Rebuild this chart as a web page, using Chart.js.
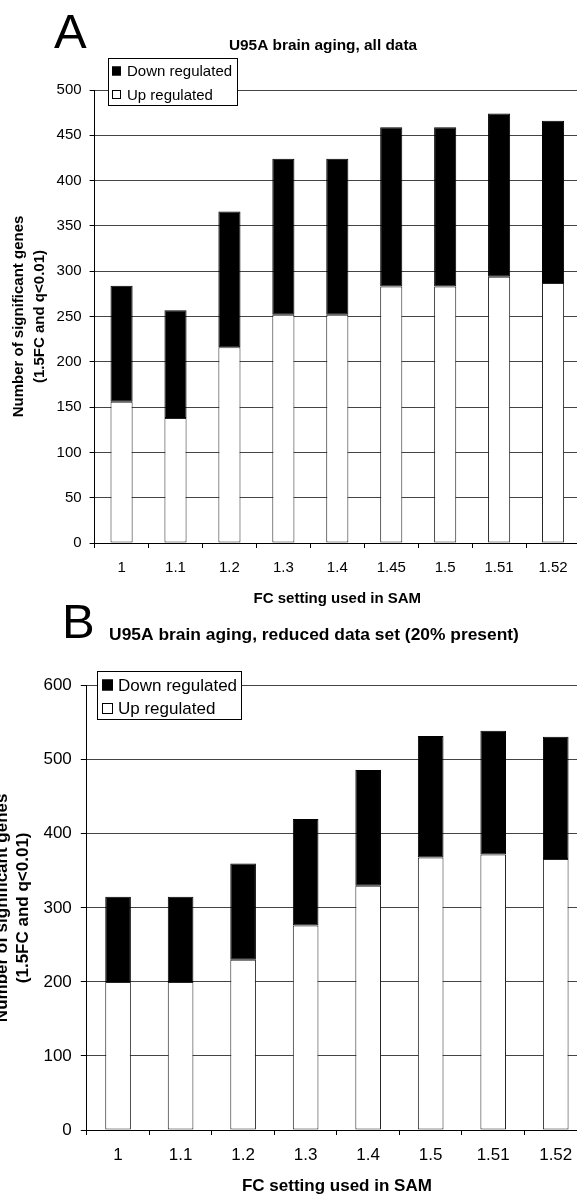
<!DOCTYPE html>
<html>
<head>
<meta charset="utf-8">
<script src="https://cdn.jsdelivr.net/npm/chart.js@4.4.1/dist/chart.umd.min.js"></script>
<style>
  html, body { margin: 0; padding: 0; background: #fff; overflow: hidden; width: 577px; height: 1194px; }
  canvas { position: absolute; }
  #chartA { left: 0px; top: 0px; }
  #chartB { left: -12px; top: 590px; }
</style>
</head>
<body>
<canvas id="chartA" width="600" height="620"></canvas>
<canvas id="chartB" width="620" height="620"></canvas>
<script>
// panel A: all data
const fcLabelsA = ['1', '1.1', '1.2', '1.3', '1.4', '1.45', '1.5', '1.51', '1.52'];
const upA = [156, 138, 216, 252, 252, 283, 283, 294, 287];
const downA = [128, 119, 150, 172, 172, 176, 176, 180, 179];

// panel B: reduced data set (20% present)
const fcLabelsB = ['1', '1.1', '1.2', '1.3', '1.4', '1.5', '1.51', '1.52'];
const upB = [200, 200, 230, 276, 330, 368, 372, 366];
const downB = [115, 115, 130, 144, 156, 164, 167, 165];

const FONT = "'Liberation Sans', Arial, sans-serif";

// draws panel letter, title and the boxed legend (legend overlaps the plot top)
const panelDecor = {
  id: 'panelDecor',
  afterDraw(chart, args, opts) {
    const ctx = chart.ctx;
    ctx.save();
    ctx.fillStyle = '#000';
    ctx.textBaseline = 'alphabetic';
    ctx.textAlign = 'left';
    ctx.font = '49px ' + FONT;
    ctx.fillText(opts.letter, opts.letterX, opts.letterY);

    ctx.textAlign = 'center';
    ctx.font = 'bold ' + opts.titleSize + 'px ' + FONT;
    ctx.fillText(opts.title, opts.titleX, opts.titleY);

    const lg = opts.legend;
    ctx.fillStyle = '#fff';
    ctx.fillRect(lg.x, lg.y, lg.w, lg.h);
    ctx.strokeStyle = '#000';
    ctx.lineWidth = 1;
    ctx.strokeRect(lg.x + 0.5, lg.y + 0.5, lg.w, lg.h);

    ctx.font = lg.size + 'px ' + FONT;
    ctx.textAlign = 'left';
    ctx.textBaseline = 'middle';
    const ds = chart.data.datasets.slice().reverse();
    ds.forEach((d, i) => {
      const cy = lg.rows[i];
      ctx.fillStyle = d.backgroundColor;
      ctx.fillRect(lg.swX, cy - lg.sw / 2, lg.sw, lg.sw);
      ctx.strokeStyle = '#000';
      ctx.strokeRect(lg.swX + 0.5, cy - lg.sw / 2 + 0.5, lg.sw - 1, lg.sw - 1);
      ctx.fillStyle = '#000';
      ctx.fillText(d.label, lg.textX, cy + 1);
    });
    ctx.restore();
  }
};

function makeChart(id, labels, up, down, cfg) {
  const ctx = document.getElementById(id).getContext('2d');
  return new Chart(ctx, {
    type: 'bar',
    data: {
      labels: labels,
      datasets: [
        {
          label: 'Up regulated',
          data: up,
          backgroundColor: '#ffffff',
          borderColor: '#222222',
          borderWidth: 1,
          borderSkipped: false
        },
        {
          label: 'Down regulated',
          data: down,
          backgroundColor: '#000000',
          borderColor: '#000000',
          borderWidth: 1,
          borderSkipped: false
        }
      ]
    },
    options: {
      responsive: false,
      animation: false,
      devicePixelRatio: 1,
      layout: { padding: cfg.padding },
      datasets: { bar: { categoryPercentage: 1, barPercentage: 0.41 } },
      plugins: {
        legend: { display: false },
        title: { display: false },
        tooltip: { enabled: false },
        panelDecor: cfg.decor
      },
      scales: {
        x: {
          stacked: true,
          afterFit: (s) => { s.height = cfg.xHeight; },
          grid: { offset: true, drawOnChartArea: false, tickLength: 5, color: '#000' },
          border: { color: '#000', width: 1 },
          ticks: { color: '#000', font: { family: FONT, size: cfg.size }, padding: cfg.xTickPad },
          title: {
            display: true,
            text: 'FC setting used in SAM',
            color: '#000',
            font: { family: FONT, size: cfg.size, weight: 'bold', lineHeight: 1.2 },
            padding: { top: 0, bottom: cfg.xTitlePad }
          }
        },
        y: {
          stacked: true,
          min: 0,
          max: cfg.yMax,
          afterFit: (s) => { s.width = cfg.yWidth; },
          grid: { color: '#444', tickColor: '#000', tickLength: cfg.yTickLen, lineWidth: 1 },
          border: { color: '#000', width: 1 },
          ticks: { stepSize: cfg.yStep, color: '#000', font: { family: FONT, size: cfg.size }, padding: cfg.yTickPad },
          title: {
            display: true,
            text: ['Number of significant genes', '(1.5FC and q<0.01)'],
            color: '#000',
            font: { family: FONT, size: cfg.size, weight: 'bold', lineHeight: cfg.yTitleLH },
            padding: { top: cfg.yTitlePad, bottom: 0 }
          }
        }
      }
    },
    plugins: [panelDecor]
  });
}

makeChart('chartA', fcLabelsA, upA, downA, {
  padding: { top: 90, right: 20, bottom: 10, left: 0 },
  xHeight: 67,
  yWidth: 94.6,
  yMax: 500,
  yStep: 50,
  size: 15,
  xTickPad: 11,
  xTitlePad: 2,
  yTickLen: 5,
  yTickPad: 8,
  yTitleLH: 1.45,
  yTitlePad: 7.5,
  decor: {
    letter: 'A', letterX: 54, letterY: 48,
    title: 'U95A brain aging, all data', titleSize: 15.4, titleX: 323, titleY: 50,
    legend: { x: 108, y: 58, w: 129, h: 47, rows: [71, 94.5], sw: 9, swX: 112, textX: 127, size: 15 }
  }
});

makeChart('chartB', fcLabelsB, upB, downB, {
  padding: { top: 95.7, right: 21, bottom: 10, left: 0 },
  xHeight: 70,
  yWidth: 98.8,
  yMax: 600,
  yStep: 100,
  size: 17,
  xTickPad: 10,
  xTitlePad: 3,
  yTickLen: 6,
  yTickPad: 9,
  yTitleLH: 1.25,
  yTitlePad: 3.4,
  decor: {
    letter: 'B', letterX: 74, letterY: 48,
    title: 'U95A brain aging, reduced data set (20% present)', titleSize: 17.4, titleX: 326, titleY: 50,
    legend: { x: 109, y: 81, w: 144, h: 48, rows: [95, 118.5], sw: 11, swX: 114, textX: 130, size: 17 }
  }
});
</script>
</body>
</html>
